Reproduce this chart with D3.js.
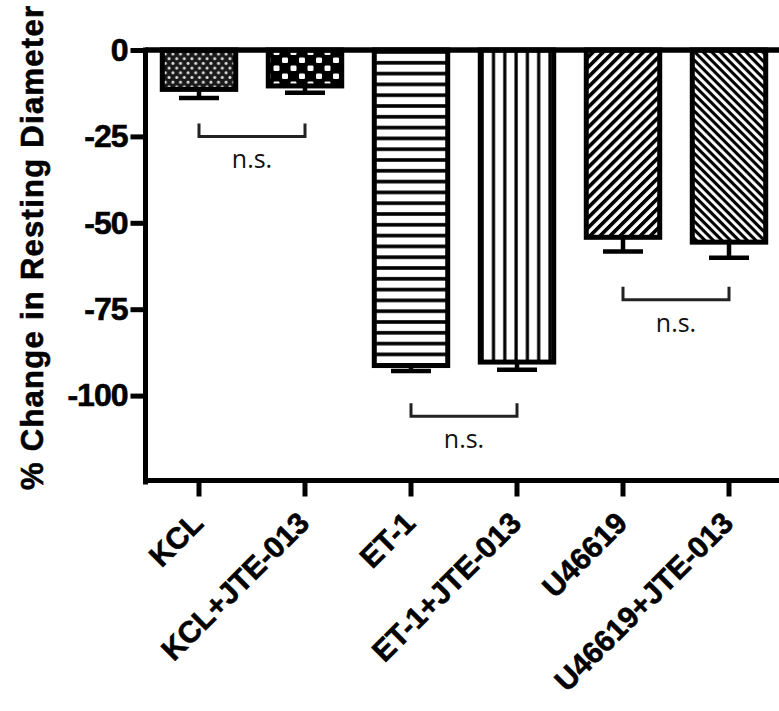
<!DOCTYPE html>
<html>
<head>
<meta charset="utf-8">
<script src="https://cdn.jsdelivr.net/npm/d3@7"></script>
<style>
  html, body { margin: 0; padding: 0; background: #fff; }
  svg { display: block; }
</style>
</head>
<body>
<div id="chart"></div>
<script>
// values
const categories = ['KCL', 'KCL+JTE-013', 'ET-1', 'ET-1+JTE-013', 'U46619', 'U46619+JTE-013']
const meanChange = [-11.4, -10.4, -91.3, -90.3, -54.2, -55.6]
const semChange = [2.5, 2.0, 1.6, 2.2, 4.1, 4.5]
const yTicks = [0, -25, -50, -75, -100]
const nsFrom = ['KCL', 'ET-1', 'U46619']
const nsTo = ['KCL+JTE-013', 'ET-1+JTE-013', 'U46619+JTE-013']
const nsLevel = [-25, -106, -72.3]

const width = 779
const height = 711
const boldFont = 'Arial, "Liberation Sans", sans-serif'

const svg = d3.select('#chart')
  .append('svg')
  .attr('width', width)
  .attr('height', height)
  .attr('viewBox', `0 0 ${width} ${height}`)

const x = d3.scaleBand()
  .domain(categories)
  .range([146, 782])
  .paddingInner(0.26)
  .paddingOuter(0.13)

const y = d3.scaleLinear()
  .domain([-125, 0])
  .range([482, 50])

// fill patterns, one per bar
const defs = svg.append('defs')

const dots = defs.append('pattern')
  .attr('id', 'p0').attr('patternUnits', 'userSpaceOnUse')
  .attr('width', 7.6).attr('height', 9.4)
dots.append('rect').attr('width', 7.6).attr('height', 9.4).attr('fill', '#1a1a1a')
dots.append('circle').attr('cx', 1.9).attr('cy', 2.3).attr('r', 1.5).attr('fill', '#ddd')
dots.append('circle').attr('cx', 5.7).attr('cy', 7.0).attr('r', 1.5).attr('fill', '#ddd')

const checks = defs.append('pattern')
  .attr('id', 'p1').attr('patternUnits', 'userSpaceOnUse')
  .attr('width', 17).attr('height', 16)
checks.append('rect').attr('width', 17).attr('height', 16).attr('fill', '#000')
checks.append('rect').attr('x', 1.5).attr('y', 1.5).attr('width', 6).attr('height', 5.5).attr('rx', 1.2).attr('fill', '#fff')
checks.append('rect').attr('x', 10).attr('y', 9.5).attr('width', 6).attr('height', 5.5).attr('rx', 1.2).attr('fill', '#fff')

const hLines = defs.append('pattern')
  .attr('id', 'p2').attr('patternUnits', 'userSpaceOnUse')
  .attr('width', 10).attr('height', 10.8)
hLines.append('rect').attr('width', 10).attr('height', 10.8).attr('fill', '#fff')
hLines.append('rect').attr('y', 7).attr('width', 10).attr('height', 3.6).attr('fill', '#000')

const vLines = defs.append('pattern')
  .attr('id', 'p3').attr('patternUnits', 'userSpaceOnUse')
  .attr('width', 11.3).attr('height', 10)
vLines.append('rect').attr('width', 11.3).attr('height', 10).attr('fill', '#fff')
vLines.append('rect').attr('x', 6).attr('width', 3.2).attr('height', 10).attr('fill', '#000')

const fwd = defs.append('pattern')
  .attr('id', 'p4').attr('patternUnits', 'userSpaceOnUse')
  .attr('width', 10).attr('height', 7.1)
  .attr('patternTransform', 'rotate(-45)')
fwd.append('rect').attr('width', 10).attr('height', 7.1).attr('fill', '#fff')
fwd.append('rect').attr('width', 10).attr('height', 3.7).attr('fill', '#000')

const back = defs.append('pattern')
  .attr('id', 'p5').attr('patternUnits', 'userSpaceOnUse')
  .attr('width', 10).attr('height', 6)
  .attr('patternTransform', 'rotate(45)')
back.append('rect').attr('width', 10).attr('height', 6).attr('fill', '#fff')
back.append('rect').attr('width', 10).attr('height', 3.1).attr('fill', '#000')

// bars
const bw = x.bandwidth()
svg.append('g')
  .selectAll('rect')
  .data(categories)
  .join('rect')
  .attr('x', d => x(d) + 2.5)
  .attr('y', y(0))
  .attr('width', bw - 5)
  .attr('height', (d, i) => y(meanChange[i]) - y(0))
  .attr('fill', (d, i) => `url(#p${i})`)
  .attr('stroke', '#000')
  .attr('stroke-width', 5)

// error bars (downward only)
const err = svg.append('g')
  .attr('stroke', '#000')
  .attr('stroke-width', 4.5)
err.selectAll('line.stem')
  .data(categories)
  .join('line')
  .attr('class', 'stem')
  .attr('x1', d => x(d) + bw / 2)
  .attr('x2', d => x(d) + bw / 2)
  .attr('y1', (d, i) => y(meanChange[i]))
  .attr('y2', (d, i) => y(meanChange[i] - semChange[i]))
err.selectAll('line.cap')
  .data(categories)
  .join('line')
  .attr('class', 'cap')
  .attr('x1', d => x(d) + bw / 2 - 20)
  .attr('x2', d => x(d) + bw / 2 + 20)
  .attr('y1', (d, i) => y(meanChange[i] - semChange[i]))
  .attr('y2', (d, i) => y(meanChange[i] - semChange[i]))

// axes
const yAxis = svg.append('g')
  .attr('transform', 'translate(145.5,0)')
  .call(d3.axisLeft(y).tickValues(yTicks).tickSizeInner(15).tickSizeOuter(0).tickPadding(3).tickFormat(d => String(d)))
yAxis.select('.domain').attr('stroke-width', 5).attr('d', `M0,${y(0) - 2.5}V${y(-125) + 2.5}`)
yAxis.selectAll('.tick line').attr('stroke-width', 5)
yAxis.selectAll('.tick text')
  .attr('font-family', boldFont)
  .attr('font-weight', 'bold')
  .attr('font-size', 32)
  .attr('fill', '#000')
  .attr('stroke', '#000')
  .attr('stroke-width', 0.6)
  .attr('letter-spacing', -1)

// zero line across the top
svg.append('line')
  .attr('x1', 145.5).attr('x2', width)
  .attr('y1', y(0)).attr('y2', y(0))
  .attr('stroke', '#000').attr('stroke-width', 5.5)

const xAxis = svg.append('g')
  .attr('transform', `translate(0,${y(-125) - 1.5})`)
  .call(d3.axisBottom(x).tickSizeInner(16).tickSizeOuter(0).tickFormat(''))
xAxis.select('.domain').attr('stroke-width', 5).attr('d', `M143,0H${width}`)
xAxis.selectAll('.tick line').attr('stroke-width', 5)

svg.append('g')
  .selectAll('text')
  .data(categories)
  .join('text')
  .attr('transform', d => `translate(${x(d) + bw / 2 + 6},${y(-125) + 43}) rotate(-45)`)
  .attr('text-anchor', 'end')
  .attr('font-family', boldFont)
  .attr('font-weight', 'bold')
  .attr('font-size', 30)
  .attr('fill', '#000')
  .attr('stroke', '#000')
  .attr('stroke-width', 0.6)
  .text(d => d)

// y title
svg.append('text')
  .attr('transform', 'translate(43,248) rotate(-90)')
  .attr('text-anchor', 'middle')
  .attr('font-family', boldFont)
  .attr('font-weight', 'bold')
  .attr('font-size', 31)
  .attr('textLength', 484)
  .attr('lengthAdjust', 'spacing')
  .attr('fill', '#000')
  .attr('stroke', '#000')
  .attr('stroke-width', 0.6)
  .text('% Change in Resting Diameter')

// n.s. brackets
const ns = svg.append('g')
nsFrom.forEach((a, i) => {
  const x1 = x(a) + bw / 2
  const x2 = x(nsTo[i]) + bw / 2
  const yl = y(nsLevel[i])
  ns.append('path')
    .attr('d', `M${x1},${yl - 13}V${yl}H${x2}V${yl - 13}`)
    .attr('fill', 'none')
    .attr('stroke', '#222')
    .attr('stroke-width', 3)
  ns.append('text')
    .attr('x', (x1 + x2) / 2)
    .attr('y', yl + 32)
    .attr('text-anchor', 'middle')
    .attr('font-family', '"Open Sans", Arial, sans-serif')
    .attr('font-size', 25)
    .attr('fill', '#111')
    .text('n.s.')
})
</script>
</body>
</html>
